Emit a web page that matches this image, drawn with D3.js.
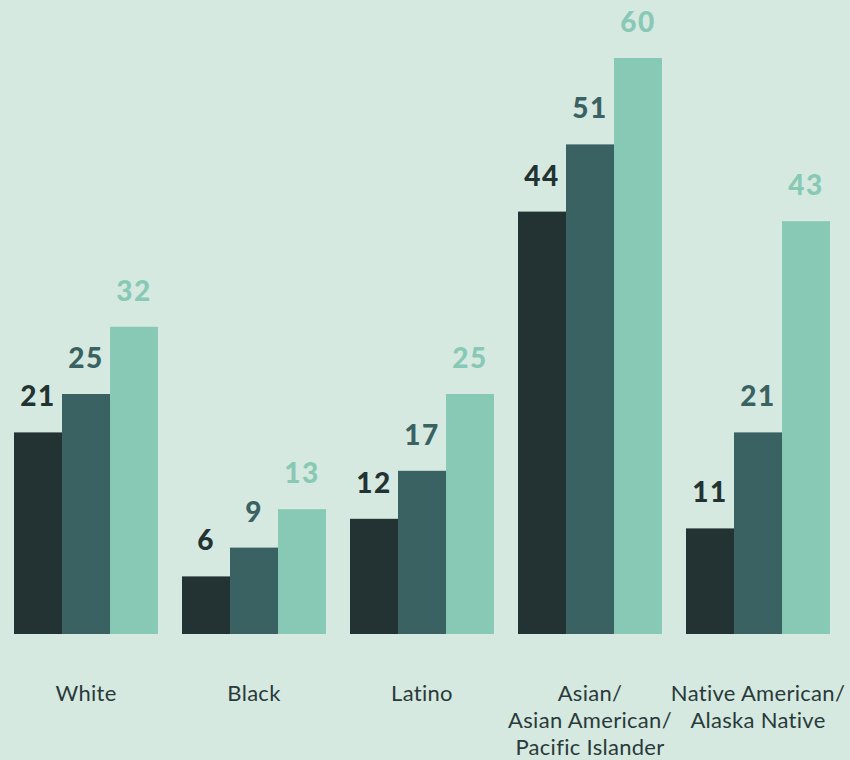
<!DOCTYPE html>
<html>
<head>
<meta charset="utf-8">
<script src="https://cdn.jsdelivr.net/npm/d3@7"></script>
<style>
  html, body { margin: 0; padding: 0; background: #d5e9e0; }
  svg { display: block; }
</style>
</head>
<body>
<svg id="chart" width="850" height="760"></svg>
<script>
// Groups along the x axis (each label may wrap to several lines)
const categories = ["White", "Black", "Latino", "Asian", "Native"];
const categoryLines = [
  ["White"],
  ["Black"],
  ["Latino"],
  ["Asian/", "Asian American/", "Pacific Islander"],
  ["Native American/", "Alaska Native"]
];

// Three series per group
const seriesKeys = ["first", "second", "third"];
const firstValues  = [21, 6, 12, 44, 11];
const secondValues = [25, 9, 17, 51, 21];
const thirdValues  = [32, 13, 25, 60, 43];
const seriesValues = [firstValues, secondValues, thirdValues];

const barColors   = ["#233233", "#3a6262", "#88c9b5"];
const labelColors = ["#233233", "#3a6262", "#88c9b5"];

const width = 850, height = 760;
const baseline = 634;

const svg = d3.select("#chart");

svg.append("rect")
  .attr("width", width).attr("height", height)
  .attr("fill", "#d5e9e0");

const x0 = d3.scaleBand()
  .domain(categories)
  .range([2, 842])
  .paddingInner(1 / 7)
  .paddingOuter(1 / 14);

const x1 = d3.scaleBand()
  .domain(seriesKeys)
  .range([0, x0.bandwidth()])
  .padding(0);

const y = d3.scaleLinear()
  .domain([0, 60])
  .range([baseline, 58]);

const rows = categories.map((c, i) => ({
  category: c,
  values: seriesKeys.map((k, s) => ({ key: k, s, value: seriesValues[s][i] }))
}));

const groups = svg.selectAll("g.group")
  .data(rows)
  .join("g")
  .attr("class", "group")
  .attr("transform", d => `translate(${x0(d.category)},0)`);

groups.selectAll("rect")
  .data(d => d.values)
  .join("rect")
  .attr("x", d => x1(d.key))
  .attr("y", d => y(d.value))
  .attr("width", x1.bandwidth())
  .attr("height", d => baseline - y(d.value))
  .attr("fill", d => barColors[d.s]);

groups.selectAll("text.value")
  .data(d => d.values)
  .join("text")
  .attr("class", "value")
  .attr("x", d => x1(d.key) + x1.bandwidth() / 2)
  .attr("y", d => y(d.value) - 26)
  .attr("text-anchor", "middle")
  .attr("font-family", "Lato, 'Open Sans', sans-serif")
  .attr("font-weight", 900)
  .attr("font-size", 28)
  .attr("letter-spacing", 1.5)
  .attr("fill", d => labelColors[d.s])
  .text(d => d.value);

// Category labels below the bars
const labels = svg.selectAll("text.category")
  .data(categories)
  .join("text")
  .attr("class", "category")
  .attr("text-anchor", "middle")
  .attr("font-family", "Lato, 'Open Sans', sans-serif")
  .attr("font-weight", 400)
  .attr("font-size", 22)
  .attr("letter-spacing", 0.3)
  .attr("fill", "#2a3a3a")
  .attr("transform", d => `translate(${x0(d) + x0.bandwidth() / 2},701)`);

labels.selectAll("tspan")
  .data((d, i) => categoryLines[i])
  .join("tspan")
  .attr("x", 0)
  .attr("y", (d, j) => j * 27)
  .text(d => d);
</script>
</body>
</html>
